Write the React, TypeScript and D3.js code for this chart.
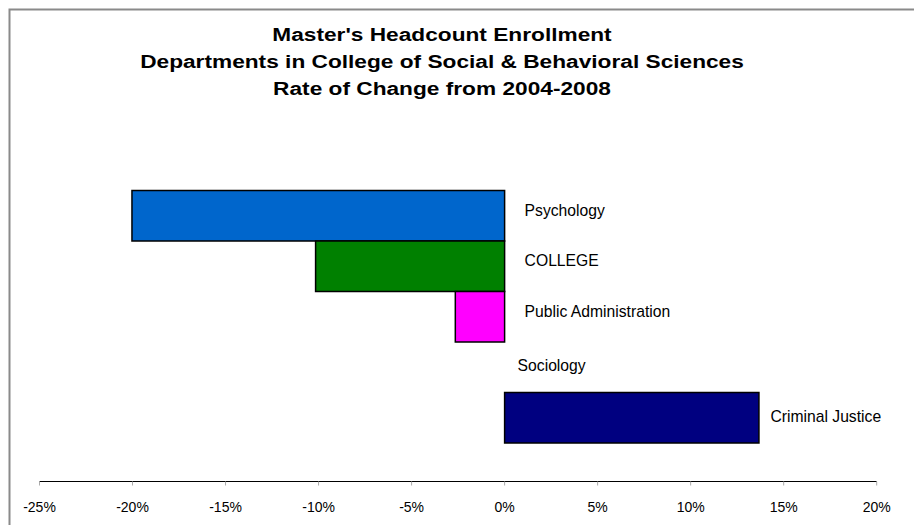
import React from "react";
import * as d3 from "d3";

const categories = ["Psychology", "COLLEGE", "Public Administration", "Sociology", "Criminal Justice"];
const values = [-0.2003, -0.1016, -0.0265, 0, 0.1367];
const colors = ["#0066CC", "#008000", "#FF00FF", "#FFFFFF", "#000080"];
const tickValues = [-0.25, -0.2, -0.15, -0.1, -0.05, 0, 0.05, 0.1, 0.15, 0.2];
const titleLines = [
  "Master's Headcount Enrollment",
  "Departments in College of Social & Behavioral Sciences",
  "Rate of Change from 2004-2008",
];

const W = 914;
const H = 525;
const font = "Arial, 'Liberation Sans', sans-serif";

const locale = d3.formatLocale({
  decimal: ".",
  thousands: ",",
  grouping: [3],
  currency: ["$", ""],
  minus: "-",
});
const fmt = locale.format(".0%");

export default function App() {
  const x = d3.scaleLinear().domain([-0.25, 0.2]).range([39.5, 876.7]);
  const y = d3.scaleBand<string>().domain(categories).range([190.5, 443]).padding(0);
  const axisY = 481.5;
  const titleCx = 442;

  return (
    <svg
      width={W}
      height={H}
      style={{ position: "absolute", left: 0, top: 0, background: "#fff" }}
    >
      <rect x={0} y={0} width={W} height={H} fill="#fff" />
      {/* frame */}
      <path d={`M9.5,${H + 5} V9.5 H${W + 5}`} fill="none" stroke="#8a8a8a" strokeWidth={2} />

      {/* title */}
      <g transform={`translate(${titleCx},0) scale(1.22,1)`}>
        {titleLines.map((t, i) => (
          <text
            key={i}
            x={0}
            y={41 + i * 27}
            textAnchor="middle"
            fontFamily={font}
            fontWeight="bold"
            fontSize={18.6}
            fill="#000"
          >
            {t}
          </text>
        ))}
      </g>

      {/* bars */}
      {categories.map((c, i) => {
        const v = values[i];
        if (v === 0) return null;
        const x0 = x(Math.min(0, v));
        const x1 = x(Math.max(0, v));
        return (
          <rect
            key={c}
            x={x0}
            y={y(c)!}
            width={x1 - x0}
            height={y.bandwidth()}
            fill={colors[i]}
            stroke="#000"
            strokeWidth={1.5}
          />
        );
      })}

      {/* labels */}
      {categories.map((c, i) => {
        const v = values[i];
        const end = x(Math.max(0, v));
        const dx = v > 0 ? 11.5 : v === 0 ? 13 : 20;
        const dy = v < 0 ? -4 : 0;
        return (
          <text
            key={c}
            x={end + dx}
            y={y(c)! + y.bandwidth() / 2 + dy}
            dominantBaseline="middle"
            fontFamily={font}
            fontSize={15.7}
            fill="#000"
          >
            {c}
          </text>
        );
      })}

      {/* axis */}
      <line x1={x(-0.25)} x2={x(0.2)} y1={axisY} y2={axisY} stroke="#000" strokeWidth={1} />
      {tickValues.map((t) => (
        <g key={t}>
          <line x1={x(t)} x2={x(t)} y1={axisY} y2={axisY + 4} stroke="#aaa" strokeWidth={1} />
          <text
            x={x(t)}
            y={508}
            textAnchor="middle"
            dominantBaseline="middle"
            fontFamily={font}
            fontSize={14}
            fill="#000"
          >
            {fmt(t)}
          </text>
        </g>
      ))}
    </svg>
  );
}
